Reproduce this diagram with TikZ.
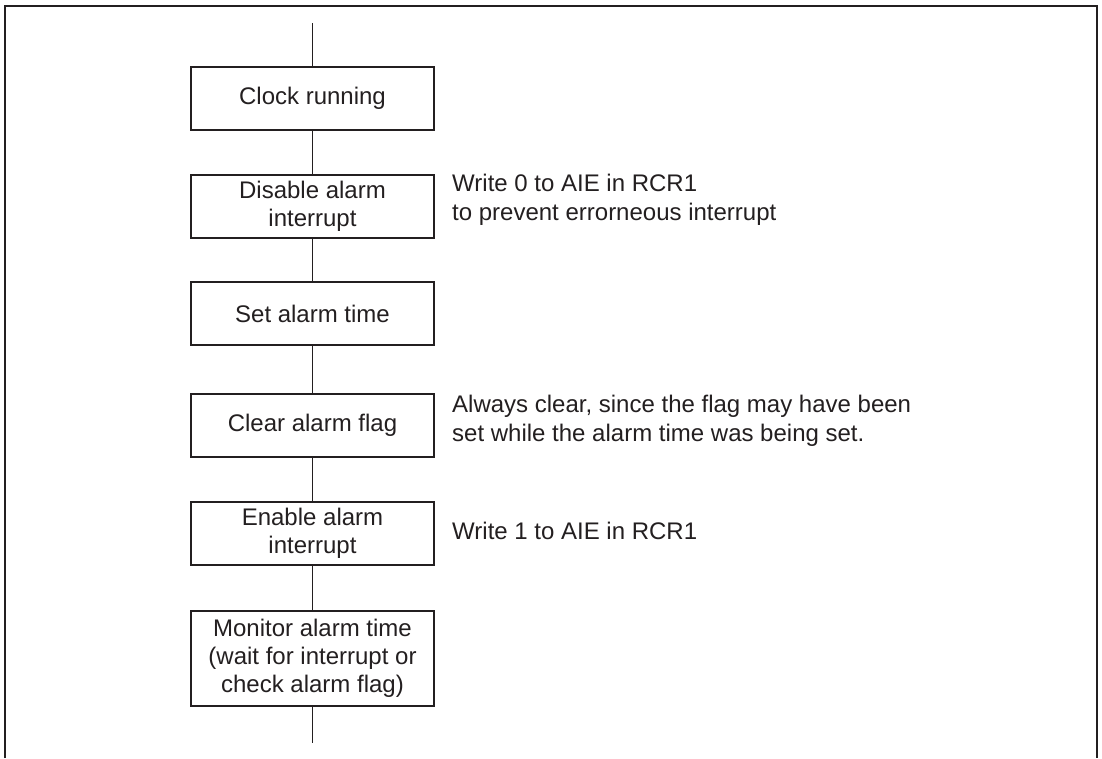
\documentclass[tikz,border=0pt]{standalone}
\usepackage{fontspec}
\setmainfont{Liberation Sans}
\definecolor{ink}{HTML}{231F20}
\begin{document}
\begin{tikzpicture}[x=1pt,y=-1pt,
  stepbox/.style={draw=ink,line width=2pt,minimum width=243pt,minimum height=63pt,inner sep=0pt,align=center,text=ink,font=\fontsize{24}{28}\selectfont},
  note/.style={anchor=west,align=left,text=ink,inner sep=0pt,font=\fontsize{24}{28.5}\selectfont},
  link/.style={draw=ink,line width=1pt}]
\useasboundingbox (0,0) rectangle (1102,758);
\draw[line width=2pt,ink] (5,758) -- (5,6) -- (1097,6) -- (1097,758);
\coordinate (top) at (312.5,23);
\coordinate (bottom) at (312.5,743);
\node[stepbox] (clock) at (312.5,98) {Clock running};
\node[stepbox] (disable) at (312.5,206.5) {Disable alarm\\interrupt};
\node[stepbox] (set) at (312.5,313.5) {Set alarm time};
\node[stepbox] (clear) at (312.5,425.5) {Clear alarm flag};
\node[stepbox] (enable) at (312.5,533.5) {Enable alarm\\interrupt};
\node[stepbox,minimum height=95pt] (monitor) at (312.5,658.5) {Monitor alarm time\\(wait for interrupt or\\check alarm flag)};
\draw[link] (top) -- (clock);
\draw[link] (clock) -- (disable);
\draw[link] (disable) -- (set);
\draw[link] (set) -- (clear);
\draw[link] (clear) -- (enable);
\draw[link] (enable) -- (monitor);
\draw[link] (monitor) -- (bottom);
\node[note] (n1) at (452,200) {Write 0 to AIE in RCR1\\to prevent errorneous interrupt};
\node[note] (n2) at (452,421) {Always clear, since the flag may have been\\set while the alarm time was being set.};
\node[note] (n3) at (452,531.4) {Write 1 to AIE in RCR1};
\end{tikzpicture}
\end{document}
